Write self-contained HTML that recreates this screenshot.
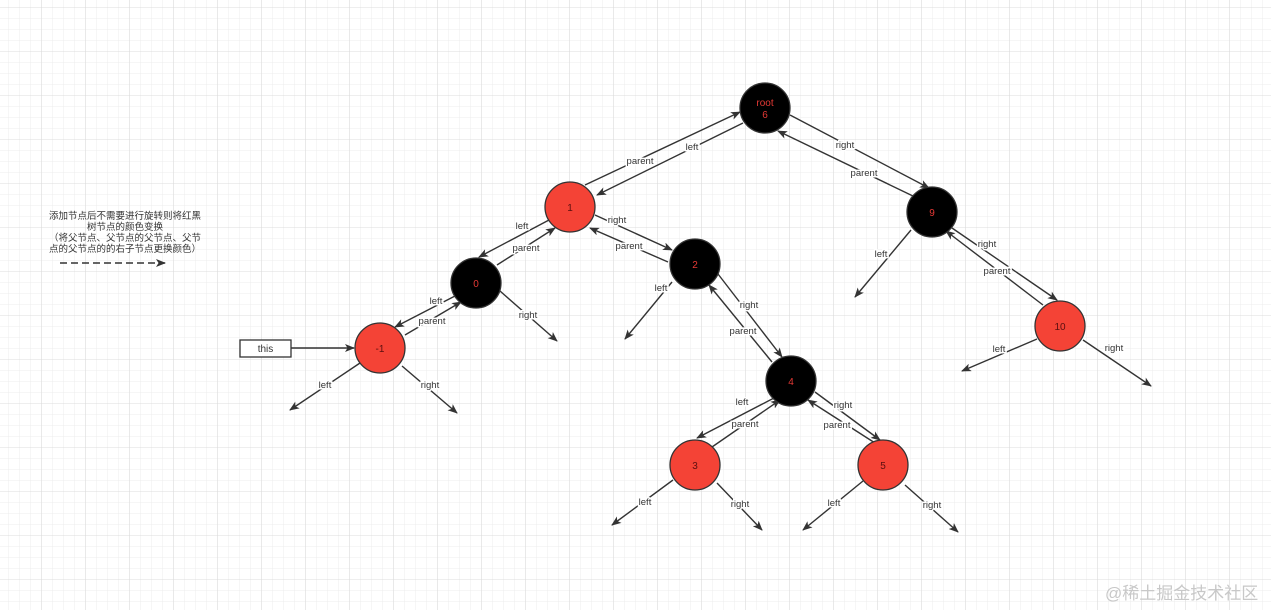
<!DOCTYPE html>
<html><head><meta charset="utf-8"><style>
html,body{margin:0;padding:0;width:1271px;height:610px;overflow:hidden;background:#fff}
svg{display:block}
text{font-family:"Liberation Sans","Noto Sans CJK SC",sans-serif}
</style></head><body>
<svg width="1271" height="610" xmlns="http://www.w3.org/2000/svg">
<defs>
<pattern id="minor" x="8.7" y="8" width="11" height="11" patternUnits="userSpaceOnUse"><path d="M11 0V11M0 11H11" stroke="#ececec" stroke-width="1" fill="none"/></pattern>
<pattern id="major" x="-2.3" y="8" width="44" height="44" patternUnits="userSpaceOnUse"><path d="M44 0V44M0 44H44" stroke="#dcdcdc" stroke-width="1" fill="none"/></pattern>
<marker id="a" markerWidth="10" markerHeight="8" refX="9" refY="4" orient="auto" markerUnits="userSpaceOnUse"><path d="M0 0L10 4L0 8L2.5 4z" fill="#333"/></marker>
</defs>
<rect width="1271" height="610" fill="url(#minor)"/>
<rect width="1271" height="610" fill="url(#major)"/>
<g stroke="#333" stroke-width="1.4" fill="none" marker-end="url(#a)">
<line x1="585" y1="185" x2="740" y2="112"/>
<line x1="743" y1="123" x2="597" y2="195"/>
<line x1="790" y1="115" x2="929" y2="188"/>
<line x1="915" y1="197" x2="778" y2="131"/>
<line x1="549" y1="220" x2="479" y2="257"/>
<line x1="497" y1="265" x2="555" y2="228"/>
<line x1="595" y1="215" x2="672" y2="250"/>
<line x1="668" y1="262" x2="590" y2="228"/>
<line x1="455" y1="296" x2="395" y2="327"/>
<line x1="405" y1="335" x2="461" y2="302"/>
<line x1="500" y1="291" x2="557" y2="341"/>
<line x1="672" y1="282" x2="625" y2="339"/>
<line x1="718" y1="274" x2="782" y2="357"/>
<line x1="772" y1="362" x2="709" y2="285"/>
<line x1="911" y1="230" x2="855" y2="297"/>
<line x1="952" y1="228" x2="1057" y2="300"/>
<line x1="1043" y1="305" x2="946" y2="231"/>
<line x1="1037" y1="339" x2="962" y2="371"/>
<line x1="1083" y1="340" x2="1151" y2="386"/>
<line x1="360" y1="363" x2="290" y2="410"/>
<line x1="402" y1="366" x2="457" y2="413"/>
<line x1="774" y1="398" x2="697" y2="438"/>
<line x1="712" y1="447" x2="780" y2="400"/>
<line x1="815" y1="392" x2="880" y2="440"/>
<line x1="875" y1="443" x2="808" y2="400"/>
<line x1="673" y1="480" x2="612" y2="525"/>
<line x1="717" y1="483" x2="762" y2="530"/>
<line x1="863" y1="481" x2="803" y2="530"/>
<line x1="905" y1="485" x2="958" y2="532"/>
<line x1="291" y1="348" x2="354" y2="348"/>
<line x1="60" y1="263" x2="165" y2="263" stroke-dasharray="7,4"/>
</g>
<rect x="240" y="340" width="51" height="17" fill="#fff" stroke="#333" stroke-width="1.3"/>
<text x="265.5" y="352" font-size="10" text-anchor="middle" fill="#333">this</text>
<g stroke="#333" stroke-width="1.3">
<circle cx="765" cy="108" r="25" fill="#000"/>
<circle cx="570" cy="207" r="25" fill="#f44336"/>
<circle cx="932" cy="212" r="25" fill="#000"/>
<circle cx="476" cy="283" r="25" fill="#000"/>
<circle cx="695" cy="264" r="25" fill="#000"/>
<circle cx="1060" cy="326" r="25" fill="#f44336"/>
<circle cx="380" cy="348" r="25" fill="#f44336"/>
<circle cx="791" cy="381" r="25" fill="#000"/>
<circle cx="695" cy="465" r="25" fill="#f44336"/>
<circle cx="883" cy="465" r="25" fill="#f44336"/>
</g>
<g font-size="10" text-anchor="middle">
<text x="765" y="106" fill="#e53935">root</text><text x="765" y="118" fill="#e53935">6</text>
<text x="570" y="211" fill="#5a0f0f">1</text>
<text x="932" y="216" fill="#e53935">9</text>
<text x="476" y="287" fill="#e53935">0</text>
<text x="695" y="268" fill="#e53935">2</text>
<text x="1060" y="330" fill="#5a0f0f">10</text>
<text x="380" y="352" fill="#5a0f0f">-1</text>
<text x="791" y="385" fill="#e53935">4</text>
<text x="695" y="469" fill="#5a0f0f">3</text>
<text x="883" y="469" fill="#5a0f0f">5</text>
</g>
<g font-size="9.5" text-anchor="middle" fill="#333">
<g stroke="#fff" stroke-width="3" paint-order="stroke">
<text x="640" y="164">parent</text><text x="692" y="150">left</text>
<text x="845" y="148">right</text><text x="864" y="176">parent</text>
<text x="522" y="229">left</text><text x="526" y="251">parent</text>
<text x="617" y="223">right</text><text x="629" y="249">parent</text>
<text x="436" y="304">left</text><text x="432" y="324">parent</text>
<text x="528" y="318">right</text>
<text x="661" y="291">left</text>
<text x="749" y="308">right</text><text x="743" y="334">parent</text>
<text x="881" y="257">left</text>
<text x="987" y="247">right</text><text x="997" y="274">parent</text>
<text x="999" y="352">left</text><text x="1114" y="351">right</text>
<text x="325" y="388">left</text><text x="430" y="388">right</text>
<text x="742" y="405">left</text><text x="745" y="427">parent</text>
<text x="843" y="408">right</text><text x="837" y="428">parent</text>
<text x="645" y="505">left</text><text x="740" y="507">right</text>
<text x="834" y="506">left</text><text x="932" y="508">right</text>
</g>
</g>
<g font-size="9.5" text-anchor="middle" fill="#333">
<text x="125" y="219">添加节点后不需要进行旋转则将红黑</text>
<text x="125" y="230">树节点的颜色变换</text>
<text x="125" y="241">（将父节点、父节点的父节点、父节</text>
<text x="125" y="252">点的父节点的的右子节点更换颜色）</text>
</g>
<text x="1105" y="599" font-size="17" fill="#c8c8c8">@稀土掘金技术社区</text>
</svg>
</body></html>
